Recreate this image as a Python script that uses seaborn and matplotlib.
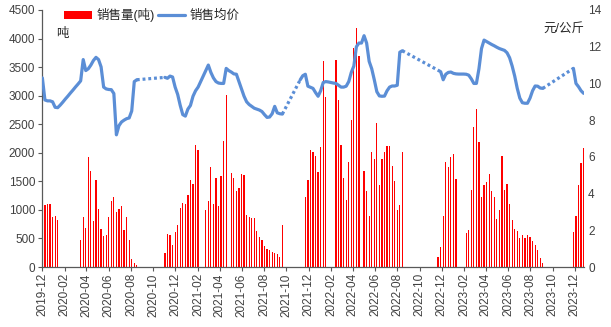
import numpy as np
import pandas as pd
import matplotlib
matplotlib.use("Agg")
import matplotlib.pyplot as plt
import matplotlib.dates as mdates
from matplotlib.patches import Patch
from matplotlib.lines import Line2D
import seaborn as sns

nan = np.nan

# weekly series, first week starting 2019-12-02
week_start = "2019-12-02"

# weekly sales volume (tonnes); nan = no sales that week
sales = [
    1170, 1090, 1110, 1110, 870, 900, 820,
    nan, nan, nan, nan, nan, nan, nan, nan,
    470, 880, 680, 1920, 1680, 810, 1530, 1020, 660, 550, 560, 870,
    1160, 1220, 970, 1020, 1060, 640, 870, 470, 140, 70, 30,
    nan, nan, nan, nan, nan, nan, nan, nan, nan, nan,
    245, 571, 554, 379, 606, 740, 1032, 1119, 1100, 1253, 1516, 1457, 2140, 2040,
    nan, nan,
    1000, 1160, 1750, 1110, 1550, 1060, 1600, 2210, 3010,
    nan,
    1650, 1560, 1330, 1390, 1630, 1610, 910, 880, 850, 850, 630, 530, 470,
    370, 320, 300, 270, 250, 230, 180, 730,
    nan, nan, nan, nan, nan, nan, nan, nan,
    1220, 1520, 2057, 2005, 1949, 1666, 2098, 3601, 2977,
    nan, nan, nan,
    3619, 2932, 2133, 1550, 1171, 1841, 2570, 3834, 4184, 3694,
    nan,
    1684, 1329, 897, 2005, 1890, 2523, 1434, 1890, 2005, 2115, 2115, 1771,
    1503, 997, 1084, 2005,
    nan, nan, nan, nan, nan, nan, nan, nan, nan, nan, nan, nan, nan,
    180, 355, 892, 1830, 1754, 1929, 1976, 1544,
    nan, nan, nan,
    589, 647, 1346, 2453, 2774, 2180, 1229, 1428, 1492, 1620, 1329, 1229, 833,
    996, 1946, 1346, 1451, 1101, 822, 659, 635, 513, 554, 513, 554, 519, 455,
    385, 297, 163, 64,
    nan, nan, nan, nan, nan, nan, nan, nan, nan, nan, nan,
    620, 897, 1434, 1813, 2075,
]

# weekly average selling price (yuan/kg); nan = no quote
price = [
    10.3, 9.1, 9.05, 9.05, 9.0, 8.7, 8.68, 8.82, 8.98, 9.15, 9.31, 9.48, 9.64,
    9.81, 9.97, 10.14, 11.3, 10.7, 10.8, 11.0, 11.25, 11.42, 11.3, 10.9, 9.8,
    9.7, 9.67, 9.66, 9.45, 7.2, 7.7, 7.9, 8.0, 8.08, 8.12, 8.5, 10.1, 10.2,
    nan, nan, nan, nan, nan, nan, nan, nan, nan, nan,
    10.33, 10.28, 10.4, 10.35, 9.8, 9.4, 8.8, 8.3, 8.22, 8.6, 8.8, 9.3, 9.6,
    9.8, 10.1, 10.4, 10.7, 11.0, 10.6, 10.3, 10.1, 10.02, 10.0, 10.0, 10.82,
    10.7, 10.62, 10.52, 10.5, 10.1, 9.7, 9.3, 9.0, 8.85, 8.75, 8.65, 8.6,
    8.55, 8.47, 8.3, 8.15, 8.17, 8.35, 8.75, 8.4, 8.35, 8.33,
    nan, nan, nan, nan, nan, nan,
    10.2, 10.42, 10.5, 9.85, 9.79, 9.73, 9.5, 9.3, 9.6, 10.05, 10.1, 10.08,
    10.05, 10.02, 10.0, 9.9, 9.8, 9.8, 9.85, 10.1, 10.6, 10.95, 12.0, 12.2,
    12.2, 12.6, 12.2, 11.2, 10.8, 10.2, 9.55, 9.32, 9.3, 9.31, 9.6, 9.8, 9.86,
    9.86, 9.9, 11.7, 11.78,
    nan, nan, nan, nan, nan, nan, nan, nan, nan, nan, nan, nan, nan, nan,
    10.64, 10.2, 10.5, 10.6, 10.62, 10.55, 10.52, 10.51, 10.51, 10.51, 10.5,
    10.45, 10.25, 10.0, 10.0, 10.8, 11.9, 12.36, 12.28, 12.2, 12.12, 12.05,
    11.97, 11.9, 11.85, 11.8, 11.67, 11.4, 10.95, 10.4, 9.73, 9.2, 8.95, 8.92,
    8.92, 9.2, 9.6, 9.86, 9.85, 9.75, 9.73,
    nan, nan, nan, nan, nan, nan, nan, nan, nan, nan, nan,
    10.82, 10.0, 9.82, 9.6, 9.46,
]

sales_ticks = list(range(0, 4501, 500))
price_ticks = list(range(0, 15, 2))
legend_labels = ["销售量(吨)", "销售均价"]
left_unit = "吨"
right_unit = "元/公斤"

dates = pd.date_range(week_start, periods=len(sales), freq="7D")
df = pd.DataFrame({"date": dates, "sales": sales, "price": price})

sns.set_theme(style="white")
plt.rcParams["font.family"] = ["Liberation Sans", "Noto Sans CJK SC"]
plt.rcParams["axes.unicode_minus"] = False

RED = "#FF0000"
BLUE = "#5B8ED6"
AXIS = "#595959"
TEXT = "#404040"

fig = plt.figure(figsize=(6.11, 3.27), dpi=100)
ax = fig.add_axes([42 / 611, 60 / 327, 542 / 611, 257 / 327])
ax2 = ax.twinx()

# sales bars on the left axis
ax.bar(df["date"], df["sales"], width=3.4, color=RED, linewidth=0)
ax.set_ylim(0, 4500)
ax.set_yticks(sales_ticks)
ax.set_xlim(pd.Timestamp("2019-12-01"), pd.Timestamp("2023-12-26"))
ax.xaxis.set_major_locator(mdates.MonthLocator(bymonth=[2, 4, 6, 8, 10, 12]))
ax.xaxis.set_major_formatter(mdates.DateFormatter("%Y-%m"))
ax.set_xlabel("")
ax.set_ylabel("")

# price line on the right axis: solid where quoted, dotted across gaps
valid = df["price"].notna()
run_id = (valid != valid.shift()).cumsum()
runs = [g for _, g in df[valid].groupby(run_id[valid])]
for g in runs:
    sns.lineplot(data=g, x="date", y="price", ax=ax2, color=BLUE, linewidth=2.3,
                 solid_capstyle="round", solid_joinstyle="round")
for a, b in zip(runs[:-1], runs[1:]):
    seg = pd.concat([a.iloc[[-1]], b.iloc[[0]]])
    sns.lineplot(data=seg, x="date", y="price", ax=ax2, color=BLUE, linewidth=2.3,
                 linestyle=(0, (0.9, 0.9)))
ax2.set_ylim(0, 14)
ax2.set_yticks(price_ticks)
ax2.set_xlabel("")
ax2.set_ylabel("")
ax2.set_xlim(ax.get_xlim())

for s in ["top", "right"]:
    ax.spines[s].set_visible(False)
for s in ["left", "bottom"]:
    ax.spines[s].set_color(AXIS)
    ax.spines[s].set_linewidth(0.9)
for s in ax2.spines.values():
    s.set_visible(False)

ax.tick_params(axis="y", left=True, direction="out", length=3, width=0.8,
               color=AXIS, labelsize=8.5, labelcolor=TEXT, pad=2)
ax.tick_params(axis="x", bottom=True, direction="out", length=3, width=0.8,
               color=AXIS, labelsize=8.5, labelcolor=TEXT, pad=1.5,
               labelrotation=90)
ax2.tick_params(axis="y", right=False, length=0, labelsize=8.5,
                labelcolor=TEXT, pad=3)

handles = [Patch(facecolor=RED, edgecolor="none"),
           Line2D([], [], color=BLUE, linewidth=2.3)]
fig.legend(handles, legend_labels, loc="center left",
           bbox_to_anchor=(58 / 611, 1 - 15 / 327), bbox_transform=fig.transFigure,
           ncol=2, frameon=False, fontsize=9, handlelength=2.2, handleheight=0.6,
           handletextpad=0.4, columnspacing=0.2, borderpad=0, labelcolor="#262626")

fig.text(56 / 611, 1 - 34 / 327, left_unit, fontsize=9, color="#262626",
         va="center", ha="left")
fig.text(584 / 611, 1 - 29 / 327, right_unit, fontsize=9, color="#262626",
         va="center", ha="right")

fig.savefig("out.png", dpi=100)
